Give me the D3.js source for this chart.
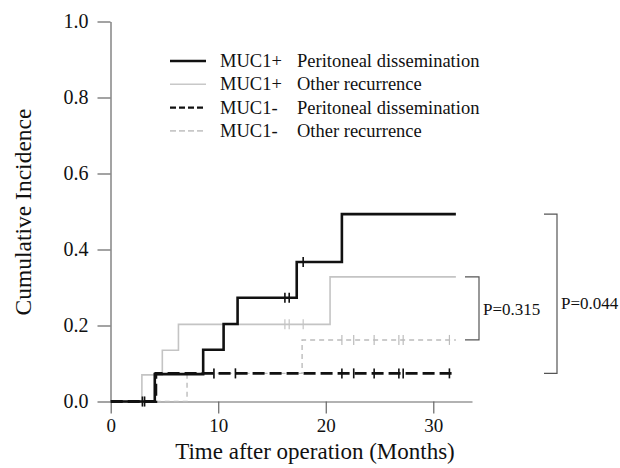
<!DOCTYPE html>
<html>
  <head>
    <meta charset="utf-8">
    <title>Cumulative incidence</title>
    <style>
      body {
        margin: 0;
        background-color: white;
      }
      text {
        font-family: "Liberation Serif", "Times New Roman", serif;
        fill: #111;
      }
    </style>
  </head>
  <body>
    <div id="chart"></div>

    <script src="https://d3js.org/d3.v7.min.js"></script>
    <script>
      // step curves (months, cumulative incidence)
      var posPdTimes = [0, 4.1, 8.6, 10.5, 11.8, 17.3, 21.5, 32.1];
      var posPdVals = [0, 0.072, 0.136, 0.204, 0.273, 0.367, 0.493, 0.493];
      var posOrTimes = [0, 2.9, 4.8, 6.3, 20.4, 32.1];
      var posOrVals = [0, 0.070, 0.135, 0.203, 0.328, 0.328];
      var negPdTimes = [0, 4.2, 32.1];
      var negPdVals = [0, 0.074, 0.074];
      var negOrTimes = [0, 7.1, 17.8, 32.1];
      var negOrVals = [0, 0.074, 0.162, 0.162];

      // censoring marks
      var posCensor = [16.2, 16.6, 17.9];
      var negCensor = [2.95, 3.15, 9.6, 11.6, 21.5, 22.6, 24.5, 26.8, 27.2, 31.5];

      var xTicks = [0, 10, 20, 30];
      var yTicks = [0, 0.2, 0.4, 0.6, 0.8, 1.0];

      var legendGroups = ["MUC1+", "MUC1+", "MUC1-", "MUC1-"];
      var legendLabels = ["Peritoneal dissemination", "Other recurrence",
                          "Peritoneal dissemination", "Other recurrence"];
      var pLabels = ["P=0.315", "P=0.044"];

      var width = 620, height = 468;
      var svg = d3.select("#chart").append("svg")
        .attr("width", width)
        .attr("height", height);

      var x = d3.scaleLinear().domain([0, 33.6]).range([110.7, 472]);
      var y = d3.scaleLinear().domain([0, 1]).range([401.5, 21.5]);

      var axisColor = "#666";

      // y axis
      var yAxis = svg.append("g")
        .attr("transform", "translate(110.5,0)")
        .call(d3.axisLeft(y).tickValues(yTicks).tickSize(13).tickSizeOuter(0)
          .tickPadding(9).tickFormat(d3.format(".1f")));
      // x axis
      var xAxis = svg.append("g")
        .attr("transform", "translate(0,401.5)")
        .call(d3.axisBottom(x).tickValues(xTicks).tickSize(12).tickSizeOuter(0)
          .tickPadding(5));

      [yAxis, xAxis].forEach(function(g, i) {
        g.attr("font-family", null);
        g.selectAll("path, line").attr("stroke", axisColor).attr("stroke-width", 1.2);
        g.selectAll("text")
          .style("font-family", "Liberation Serif")
          .style("font-size", i === 0 ? "20px" : "19px")
          .attr("fill", "#222");
      });

      svg.append("text")
        .attr("transform", "translate(31,212) rotate(-90)")
        .attr("text-anchor", "middle")
        .style("font-size", "23.5px")
        .text("Cumulative Incidence");

      svg.append("text")
        .attr("x", 315)
        .attr("y", 459)
        .attr("text-anchor", "middle")
        .style("font-size", "23px")
        .text("Time after operation (Months)");

      var series = [
        {t: negOrTimes, v: negOrVals, color: "#bcbcbc", w: 1.4, dash: "5,4", censor: negCensor},
        {t: posOrTimes, v: posOrVals, color: "#c4c4c4", w: 1.6, dash: null, censor: posCensor},
        {t: posPdTimes, v: posPdVals, color: "#111", w: 2.6, dash: null, censor: posCensor},
        {t: negPdTimes, v: negPdVals, color: "#111", w: 2.8, dash: "12,5", censor: negCensor}
      ];

      var line = d3.line()
        .x(function(d) { return x(d[0]); })
        .y(function(d) { return y(d[1]); })
        .curve(d3.curveStepAfter);

      series.forEach(function(s) {
        var pts = s.t.map(function(t, i) { return [t, s.v[i]]; });
        svg.append("path")
          .datum(pts)
          .attr("d", line)
          .attr("fill", "none")
          .attr("stroke", s.color)
          .attr("stroke-width", s.w)
          .attr("stroke-dasharray", s.dash);

        var marks = s.censor.map(function(t) {
          var i = d3.bisectRight(s.t, t) - 1;
          return [t, s.v[Math.max(i, 0)]];
        });
        svg.selectAll(null)
          .data(marks)
          .enter()
          .append("line")
          .attr("x1", function(d) { return x(d[0]); })
          .attr("x2", function(d) { return x(d[0]); })
          .attr("y1", function(d) { return y(d[1]) - 5; })
          .attr("y2", function(d) { return y(d[1]) + 5; })
          .attr("stroke", s.color)
          .attr("stroke-width", s.w > 2 ? 1.6 : 1.2);
      });

      // p-value brackets
      var last = function(a) { return a[a.length - 1]; };
      var brackets = [
        {top: last(posOrVals), bottom: last(negOrVals), x0: 465, x1: 479},
        {top: last(posPdVals), bottom: last(negPdVals), x0: 544, x1: 557}
      ];
      brackets.forEach(function(b, i) {
        svg.append("path")
          .attr("d", "M" + b.x0 + "," + y(b.top) + "H" + b.x1 + "V" + y(b.bottom) + "H" + b.x0)
          .attr("fill", "none")
          .attr("stroke", "#555")
          .attr("stroke-width", 1.2);
        svg.append("text")
          .attr("x", b.x1 + 4)
          .attr("y", i === 0 ? 315 : 309)
          .style("font-size", "17px")
          .text(pLabels[i]);
      });

      // legend
      var legend = svg.append("g");
      var legendStyle = [
        {color: "#111", w: 2.6, dash: null},
        {color: "#c8c8c8", w: 1.6, dash: null},
        {color: "#111", w: 2.4, dash: "6,3"},
        {color: "#c8c8c8", w: 1.6, dash: "6,3"}
      ];
      legendLabels.forEach(function(lab, i) {
        var by = 67 + i * 23.3;
        legend.append("line")
          .attr("x1", 170).attr("x2", 206)
          .attr("y1", by - 6).attr("y2", by - 6)
          .attr("stroke", legendStyle[i].color)
          .attr("stroke-width", legendStyle[i].w)
          .attr("stroke-dasharray", legendStyle[i].dash);
        legend.append("text")
          .attr("x", 220).attr("y", by)
          .style("font-size", "18.5px")
          .text(legendGroups[i]);
        legend.append("text")
          .attr("x", 297).attr("y", by)
          .style("font-size", "18.5px")
          .text(lab);
      });
    </script>
  </body>
</html>
